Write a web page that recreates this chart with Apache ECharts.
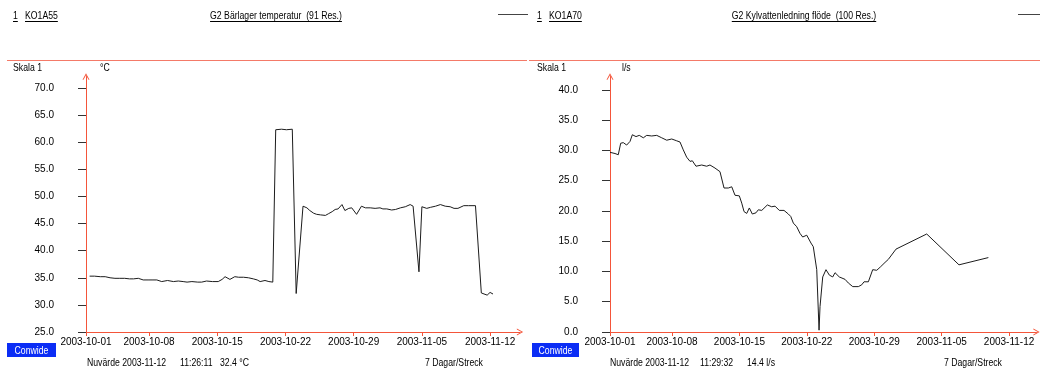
<!DOCTYPE html>
<html>
<head>
<meta charset="utf-8">
<title>G2 Bärlager temperatur / G2 Kylvattenledning flöde</title>
<script src="https://cdn.jsdelivr.net/npm/echarts@6/dist/echarts.min.js"></script>
<style>
  html, body { margin: 0; padding: 0; background: #fff; }
  #chart { width: 1040px; height: 371px; }
</style>
</head>
<body>
<div id="chart"></div>
<script>
// Time is counted in days after 2003-10-01 00:00.
const tempDays = [
  0.9, 1.4, 2.0, 2.5, 3.0, 3.5, 4.0, 4.5, 5.0, 5.4, 5.9, 6.4, 6.9, 7.4, 7.8,
  8.3, 8.9, 9.5, 10.0, 10.5, 10.9, 11.4, 12.0, 12.4, 12.9, 13.5, 14.1, 14.5,
  14.8, 15.3, 15.8, 16.2, 16.7, 17.2, 17.7, 18.1, 18.4, 18.9, 19.3, 19.7,
  20.0, 20.6, 21.1, 21.7, 22.1, 22.8, 23.2, 23.5, 23.9, 24.2, 24.6, 25.1,
  25.4, 25.8, 26.1, 26.4, 26.8, 27.1, 27.5, 27.8, 28.3, 28.8, 29.2, 29.7,
  30.2, 30.7, 31.0, 31.4, 31.9, 32.3, 32.8, 33.3, 33.8, 34.1, 34.7, 35.0,
  35.5, 35.9, 36.4, 36.9, 37.4, 37.9, 38.3, 38.7, 39.3, 39.8, 40.5, 41.1,
  41.7, 42.0, 42.3
];
const tempValues = [
  35.3, 35.3, 35.2, 35.2, 35.0, 34.9, 34.9, 34.9, 34.8, 34.8, 34.9, 34.6,
  34.6, 34.6, 34.6, 34.3, 34.5, 34.3, 34.4, 34.3, 34.2, 34.3, 34.2, 34.2,
  34.4, 34.3, 34.3, 34.7, 35.2, 34.7, 35.2, 35.1, 35.1, 35.0, 34.8, 34.6,
  34.3, 34.5, 34.3, 34.2, 62.3, 62.4, 62.3, 62.4, 32.1, 48.2, 47.9, 47.4,
  46.9, 46.7, 46.6, 46.5, 46.8, 47.2, 47.6, 47.7, 48.5, 47.4, 47.8, 47.9,
  46.7, 48.2, 47.9, 47.9, 47.8, 47.9, 47.7, 47.7, 47.5, 47.6, 47.9, 48.1,
  48.5, 48.2, 36.1, 48.1, 47.8, 48.0, 48.2, 48.5, 48.2, 48.1, 47.8, 47.8,
  48.3, 48.3, 48.3, 32.2, 31.8, 32.3, 32.0
];

const flowDays = [
  0.56, 1.08, 1.42, 1.67, 1.94, 2.29, 2.64, 2.88, 3.26, 3.60, 4.02, 4.37,
  4.89, 5.41, 5.93, 6.45, 6.97, 7.49, 7.83, 8.17, 8.52, 8.87, 9.11, 9.49,
  10.08, 10.60, 10.94, 11.46, 11.98, 12.16, 12.40, 12.85, 13.20, 13.54,
  13.99, 14.24, 14.48, 14.76, 15.03, 15.34, 15.72, 15.96, 16.32, 16.90,
  17.35, 17.70, 18.14, 18.63, 19.08, 19.33, 19.60, 19.95, 20.29, 20.57,
  20.99, 21.15, 21.43, 21.67, 21.78, 22.03, 22.27, 22.37, 22.65, 22.99,
  23.34, 23.69, 23.93, 24.37, 24.97, 25.31, 25.77, 26.35, 26.70, 26.94,
  27.39, 27.84, 28.26, 28.67, 29.12, 29.46, 30.26, 33.45, 36.80, 39.85
];
const flowValues = [
  29.7, 29.5, 29.3, 31.2, 31.3, 30.9, 31.5, 32.6, 32.3, 32.5, 32.1, 32.5,
  32.4, 32.5, 32.1, 31.7, 31.9, 31.6, 31.4, 30.1, 28.9, 28.2, 28.3, 27.4,
  27.6, 27.4, 27.6, 27.1, 26.5, 26.2, 23.8, 23.8, 24.0, 22.6, 22.5, 21.3,
  19.9, 19.6, 20.5, 19.5, 19.7, 20.2, 20.1, 21.0, 20.7, 20.8, 20.1, 20.1,
  19.5, 19.1, 18.0, 17.4, 16.3, 15.7, 16.0, 15.9, 14.7, 14.1, 13.8, 10.3,
  0.3, 4.2, 9.1, 10.3, 9.4, 9.1, 9.8, 9.1, 8.7, 8.1, 7.5, 7.5, 7.8, 8.3,
  8.3, 10.3, 10.2, 10.8, 11.5, 12.0, 13.7, 16.2, 11.1, 12.3
];

const weekTickDays = [7, 14, 21, 28, 35, 42];
const tempTicks = [25, 30, 35, 40, 45, 50, 55, 60, 65, 70];
const flowTicks = [0, 5, 10, 15, 20, 25, 30, 35, 40];

const RED = '#f4553a';
const SEP_RED = '#f47a68';
const LINE = '#1c1c1c';
const BLUE = '#0b2df5';
const FONT_FAMILY = '"Liberation Sans", Arial, sans-serif';
const FONT = '11px ' + FONT_FAMILY;
const AXIS_FONT_SIZE = 10;
// The panel texts use a narrow face; the sans face is squeezed horizontally.
const TEXT_SQUEEZE = 0.79;

// Open chevron used as the axis arrow head (points up before rotation).
const CHEVRON = 'path://M0,9 L5,0 L10,9 L8.6,9 L5,2.6 L1.4,9 Z';

const measureCtx = document.createElement('canvas').getContext('2d');
measureCtx.font = FONT;
const textWidth = (s) => measureCtx.measureText(s).width * TEXT_SQUEEZE;

function dayLabel(d) {
  const t = Date.UTC(2003, 9, 1) + Math.floor(d + 1e-6) * 86400000;
  return new Date(t).toISOString().slice(0, 10);
}

function zip(xs, ys) {
  return xs.map((x, i) => [x, ys[i]]);
}

function xAxisFor(gridIndex, min, max) {
  const ticks = [min].concat(weekTickDays);
  return {
    type: 'value',
    gridIndex: gridIndex,
    min: min,
    max: max,
    axisLine: {
      show: true, onZero: false,
      lineStyle: { color: RED, width: 1 },
      symbol: ['none', CHEVRON], symbolSize: [7, 7]
    },
    axisTick: { show: true, customValues: ticks, length: 4, lineStyle: { color: RED } },
    axisLabel: {
      customValues: ticks, formatter: dayLabel, margin: 5,
      color: '#000', fontSize: AXIS_FONT_SIZE, fontFamily: FONT_FAMILY
    },
    splitLine: { show: false }
  };
}

function yAxisFor(gridIndex, min, max, ticks) {
  return {
    type: 'value',
    gridIndex: gridIndex,
    min: min,
    max: max,
    axisLine: {
      show: true, onZero: false,
      lineStyle: { color: RED, width: 1 },
      symbol: ['none', CHEVRON], symbolSize: [7, 7]
    },
    axisTick: { show: true, customValues: ticks, length: 8, lineStyle: { color: '#333' } },
    axisLabel: {
      customValues: ticks, formatter: (v) => v.toFixed(1), margin: 32,
      color: '#000', fontSize: AXIS_FONT_SIZE, fontFamily: FONT_FAMILY
    },
    splitLine: { show: false }
  };
}

// Text helpers for the header / footer furniture of each panel.
function label(text, x, y, opts) {
  opts = opts || {};
  return {
    type: 'text', x: x, y: y, silent: true,
    scaleX: TEXT_SQUEEZE, scaleY: 1,
    style: {
      text: text, fill: opts.fill || '#000', font: FONT,
      align: opts.align || 'left', verticalAlign: 'middle'
    }
  };
}
function hline(x1, x2, y, color) {
  return {
    type: 'line', silent: true,
    shape: { x1: x1, y1: y, x2: x2, y2: y },
    style: { stroke: color, lineWidth: 1 }
  };
}
function underlined(text, x, y, align) {
  const w = textWidth(text);
  const left = align === 'center' ? x - w / 2 : x;
  return [label(text, x, y, { align: align }), hline(left, left + w, y + 5.5, '#000')];
}

function panelFurniture(p) {
  const o = [];
  o.push(...underlined('1', p.numX, 16));
  o.push(...underlined(p.code, p.codeX, 16));
  o.push(...underlined(p.title, p.titleX, 16, 'center'));
  o.push(hline(p.legendX1, p.legendX2, 14.5, '#444'));
  o.push(hline(p.sepX1, p.sepX2, 60.5, SEP_RED));
  o.push(label('Skala 1', p.numX, 68));
  o.push(label(p.unit, p.unitX, 68));
  o.push({
    type: 'rect', silent: true,
    shape: { x: p.btnX, y: 343, width: p.btnW, height: 14 },
    style: { fill: BLUE }
  });
  o.push(label('Conwide', p.btnX + p.btnW / 2, 350.5, { align: 'center', fill: '#fff' }));
  o.push(label('Nuvärde 2003-11-12', p.nowX, 363));
  o.push(label(p.time, p.timeX, 363));
  o.push(label(p.current, p.curX, 363));
  o.push(label('7 Dagar/Streck', p.streckX, 363));
  return o;
}

const graphics = [].concat(
  panelFurniture({
    numX: 13, code: 'KO1A55', codeX: 25,
    title: 'G2 Bärlager temperatur  (91 Res.)', titleX: 276,
    legendX1: 498, legendX2: 528, sepX1: 7, sepX2: 527,
    unit: '°C', unitX: 100, btnX: 7, btnW: 49,
    nowX: 87, time: '11:26:11', timeX: 180, current: '32.4 °C', curX: 220, streckX: 425
  }),
  panelFurniture({
    numX: 537, code: 'KO1A70', codeX: 549,
    title: 'G2 Kylvattenledning flöde  (100 Res.)', titleX: 804,
    legendX1: 1018, legendX2: 1040, sepX1: 529, sepX2: 1040,
    unit: 'l/s', unitX: 622, btnX: 532, btnW: 47,
    nowX: 610, time: '11:29:32', timeX: 700, current: '14.4 l/s', curX: 747, streckX: 944
  })
);

const chart = echarts.init(document.getElementById('chart'), null, { renderer: 'canvas' });
chart.setOption({
  animation: false,
  backgroundColor: '#fff',
  textStyle: { fontFamily: FONT_FAMILY },
  grid: [
    { left: 86, top: 76.5, width: 434, bottom: 39, containLabel: false },
    { left: 610, top: 76.5, width: 426.5, bottom: 39, containLabel: false }
  ],
  xAxis: [xAxisFor(0, 0.53, 45.07), xAxisFor(1, 0.56, 44.85)],
  yAxis: [yAxisFor(0, 25, 72.12, tempTicks), yAxisFor(1, 0, 42.23, flowTicks)],
  series: [
    {
      type: 'line', xAxisIndex: 0, yAxisIndex: 0,
      data: zip(tempDays, tempValues),
      showSymbol: false, symbol: 'none',
      lineStyle: { color: LINE, width: 1 }
    },
    {
      type: 'line', xAxisIndex: 1, yAxisIndex: 1,
      data: zip(flowDays, flowValues),
      showSymbol: false, symbol: 'none',
      lineStyle: { color: LINE, width: 1 }
    }
  ],
  graphic: graphics
});
</script>
</body>
</html>
